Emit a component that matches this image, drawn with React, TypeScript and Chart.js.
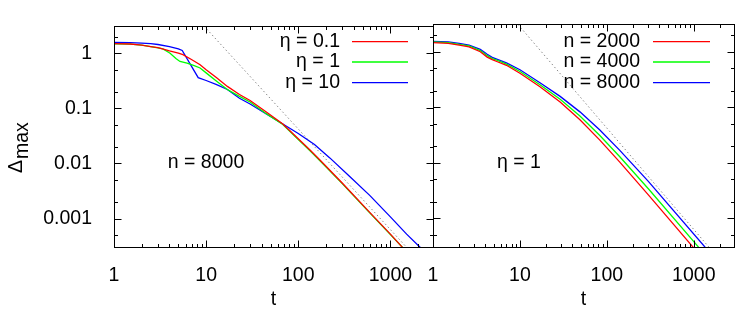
import { useEffect, useRef } from 'react';
import { Chart, registerables } from 'chart.js';
Chart.register(...registerables);

const FONT = '"Liberation Sans", Arial, Helvetica, sans-serif';
const FS = 19.5;

// ---- axis ranges & tick labels ----
const X_MIN = 1;
const X_MAX = 2900;
const Y_MIN = 0.000304;
const Y_MAX = 3.16;
const xTickValues = [1, 10, 100, 1000];
const yTickValues = [0.001, 0.01, 0.1, 1];

// ---- left panel (n = 8000) ----
const tRedL = [1, 1.5, 2, 2.5, 3, 4, 5, 5.6, 7, 8.6, 10, 13, 17, 23, 30, 45, 68, 100, 135, 173, 300, 600, 1000, 1350, 1600];
const yRedL = [1.5, 1.47, 1.4, 1.32, 1.26, 1.1, 1.0, 0.94, 0.76, 0.62, 0.5, 0.36, 0.25, 0.178, 0.139, 0.086, 0.052, 0.028, 0.0173, 0.0114, 0.0044, 0.00128, 0.00052, 0.0003, 0.00022];
const tGreenL = [1, 1.5, 2, 2.5, 3, 3.4, 4.06, 4.7, 5.2, 6.2, 7.3, 8.6, 10, 13, 17, 23, 30, 45, 68, 100, 135, 173, 300, 600, 1000, 1350, 1600];
const yGreenL = [1.48, 1.46, 1.4, 1.32, 1.25, 1.2, 1.0, 0.8, 0.71, 0.66, 0.6, 0.54, 0.44, 0.31, 0.22, 0.165, 0.13, 0.08, 0.051, 0.027, 0.0168, 0.0111, 0.0043, 0.00125, 0.00051, 0.0003, 0.00022];
const tBlueL = [1, 1.5, 2, 2.5, 3, 4, 5, 5.5, 8.2, 10, 13, 17, 23, 30, 45, 68, 100, 150, 220, 350, 600, 1000, 1500, 2100, 2400];
const yBlueL = [1.57, 1.56, 1.53, 1.49, 1.44, 1.32, 1.2, 1.12, 0.36, 0.32, 0.27, 0.22, 0.152, 0.12, 0.079, 0.052, 0.035, 0.022, 0.0126, 0.0061, 0.0026, 0.00107, 0.00052, 0.0003, 0.00024];

// ---- right panel (eta = 1) ----
const tRedR = [1, 1.5, 2, 2.6, 3.5, 4.2, 4.8, 5.5, 7, 10, 17, 29, 49, 83, 140, 300, 985, 1150];
const yRedR = [1.46, 1.42, 1.31, 1.22, 1.0, 0.8, 0.72, 0.66, 0.57, 0.41, 0.235, 0.124, 0.0594, 0.0256, 0.0104, 0.00264, 0.0003, 0.0002];
const tGreenR = [1, 1.5, 2, 2.6, 3.5, 4.2, 4.8, 5.5, 7, 10, 17, 29, 49, 83, 140, 300, 1120, 1300];
const yGreenR = [1.5, 1.46, 1.36, 1.27, 1.05, 0.85, 0.75, 0.7, 0.6, 0.44, 0.254, 0.14, 0.0694, 0.031, 0.013, 0.0034, 0.00031, 0.0002];
const tBlueR = [1, 1.5, 2, 2.6, 3.5, 4.2, 4.8, 5.5, 7, 10, 17, 29, 49, 83, 140, 300, 1340, 1550];
const yBlueR = [1.53, 1.5, 1.42, 1.32, 1.1, 0.9, 0.79, 0.73, 0.63, 0.474, 0.277, 0.157, 0.0826, 0.039, 0.0169, 0.00463, 0.000305, 0.0002];

// ---- dotted guide line ----
const tGuide = [9.5, 1500];
const yGuide = [3.1, 0.0003];

const leftLabels = ['η = 0.1', 'η = 1', 'η = 10'];
const rightLabels = ['n = 2000', 'n = 4000', 'n = 8000'];
const seriesColors = ['#ff0000', '#00ff00', '#0000ff'];

const toPts = (t: number[], y: number[]) => t.map((v, i) => ({ x: v, y: y[i] }));

interface PanelCfg {
  id: string;
  series: { t: number[]; y: number[] }[];
  labels: string[];
  padLeft: number;
  padRight: number;
  showY: boolean;
  legendTextRight: number;
  legendLine: [number, number];
  note: string;
  noteX: number;
}

const leftPanel: PanelCfg = {
  id: 'L',
  series: [
    { t: tRedL, y: yRedL },
    { t: tGreenL, y: yGreenL },
    { t: tBlueL, y: yBlueL },
  ],
  labels: leftLabels,
  padLeft: 0,
  padRight: 314,
  showY: true,
  legendTextRight: 340,
  legendLine: [352, 408],
  note: 'n = 8000',
  noteX: 206,
};

const rightPanel: PanelCfg = {
  id: 'R',
  series: [
    { t: tRedR, y: yRedR },
    { t: tGreenR, y: yGreenR },
    { t: tBlueR, y: yBlueR },
  ],
  labels: rightLabels,
  padLeft: 433,
  padRight: 13,
  showY: false,
  legendTextRight: 640,
  legendLine: [653, 710],
  note: 'η = 1',
  noteX: 519,
};

function makePlugin(p: PanelCfg) {
  return {
    id: 'decor' + p.id,
    afterDraw(chart: any) {
      const { ctx, chartArea: a, scales } = chart;
      const xs = scales.x;
      const ys = scales.y;
      const L = Math.round(a.left) + 0.5;
      const R = Math.round(a.right) + 0.5;
      const T = Math.round(a.top) + 0.5;
      const B = Math.round(a.bottom) + 0.5;
      ctx.save();
      ctx.strokeStyle = '#000';
      ctx.lineWidth = 1;
      ctx.beginPath();
      for (let d = 0; d <= 4; d++) {
        for (let k = 1; k <= 9; k++) {
          const v = k * Math.pow(10, d);
          if (v < X_MIN || v > X_MAX) continue;
          const px = Math.round(xs.getPixelForValue(v)) + 0.5;
          const len = k === 1 ? 7 : 3.5;
          ctx.moveTo(px, B);
          ctx.lineTo(px, B - len);
          ctx.moveTo(px, T);
          ctx.lineTo(px, T + len);
        }
      }
      for (let d = -4; d <= 0; d++) {
        for (const k of [1, 2, 5]) {
          const v = k * Math.pow(10, d);
          if (v < Y_MIN || v > Y_MAX) continue;
          const py = Math.round(ys.getPixelForValue(v)) + 0.5;
          const len = k === 1 ? 7 : 3.5;
          ctx.moveTo(L, py);
          ctx.lineTo(L + len, py);
          ctx.moveTo(R, py);
          ctx.lineTo(R - len, py);
        }
      }
      ctx.stroke();
      ctx.strokeRect(L, T, R - L, B - T);

      // legend
      ctx.font = `${FS}px ${FONT}`;
      ctx.fillStyle = '#000';
      ctx.textBaseline = 'middle';
      const rows = [41.7, 62, 82.7];
      p.labels.forEach((lab, i) => {
        ctx.textAlign = 'right';
        ctx.fillText(lab, p.legendTextRight, rows[i]);
        ctx.beginPath();
        ctx.strokeStyle = seriesColors[i];
        ctx.lineWidth = 1.3;
        ctx.moveTo(p.legendLine[0], rows[i]);
        ctx.lineTo(p.legendLine[1], rows[i]);
        ctx.stroke();
      });

      // note
      ctx.textAlign = 'center';
      ctx.fillStyle = '#000';
      ctx.fillText(p.note, p.noteX, 163);

      // y title
      if (p.showY) {
        ctx.translate(22, 173);
        ctx.rotate(-Math.PI / 2);
        ctx.textAlign = 'left';
        ctx.textBaseline = 'alphabetic';
        ctx.fillText('Δ', 0, 0);
        ctx.fillText('max', 14, 6);
      }
      ctx.restore();
    },
  };
}

function buildConfig(p: PanelCfg): any {
  const font = { family: FONT, size: FS };
  const datasets: any[] = p.series.map((s, i) => ({
    label: p.labels[i],
    data: toPts(s.t, s.y),
    borderColor: seriesColors[i],
    backgroundColor: seriesColors[i],
    borderWidth: 1.3,
    pointRadius: 0,
    fill: false,
    tension: 0,
  }));
  datasets.push({
    label: 'guide',
    data: toPts(tGuide, yGuide),
    borderColor: '#8a8a8a',
    borderWidth: 1,
    borderDash: [1.5, 2.5],
    pointRadius: 0,
    fill: false,
    tension: 0,
  });
  return {
    type: 'line',
    data: { datasets },
    options: {
      responsive: false,
      animation: false,
      devicePixelRatio: 1,
      layout: { padding: { left: p.padLeft, right: p.padRight, top: 24, bottom: 0 } },
      plugins: { legend: { display: false }, tooltip: { enabled: false } },
      scales: {
        x: {
          type: 'logarithmic',
          min: X_MIN,
          max: X_MAX,
          bounds: 'data',
          afterBuildTicks: (s: any) => {
            s.ticks = xTickValues.map((v) => ({ value: v }));
          },
          afterFit: (s: any) => {
            s.height = 67;
          },
          ticks: {
            callback: (v: any) => String(v),
            font,
            color: '#000',
            padding: 9,
            maxRotation: 0,
            autoSkip: false,
          },
          grid: { display: false },
          border: { display: false },
          title: { display: true, text: 't', font, color: '#000', padding: { top: 0, bottom: 3 } },
        },
        y: {
          type: 'logarithmic',
          display: p.showY,
          min: Y_MIN,
          max: Y_MAX,
          bounds: 'data',
          afterBuildTicks: (s: any) => {
            s.ticks = yTickValues.map((v) => ({ value: v }));
          },
          afterFit: (s: any) => {
            s.width = p.showY ? 114 : 0;
          },
          ticks: {
            callback: (v: any) => String(v),
            font,
            color: '#000',
            padding: 14,
            autoSkip: false,
          },
          grid: { display: false },
          border: { display: false },
        },
      },
    },
    plugins: [makePlugin(p)],
  };
}

function Panel({ cfg }: { cfg: PanelCfg }) {
  const ref = useRef<HTMLCanvasElement>(null);
  useEffect(() => {
    const chart = new Chart(ref.current as HTMLCanvasElement, buildConfig(cfg));
    return () => chart.destroy();
  }, [cfg]);
  return (
    <canvas
      ref={ref}
      width={747}
      height={314}
      style={{ position: 'absolute', left: 0, top: 0, width: 747, height: 314 }}
    />
  );
}

export default function App() {
  return (
    <div style={{ position: 'fixed', left: 0, top: 0, width: 747, height: 314, background: '#fff' }}>
      <Panel cfg={leftPanel} />
      <Panel cfg={rightPanel} />
    </div>
  );
}
